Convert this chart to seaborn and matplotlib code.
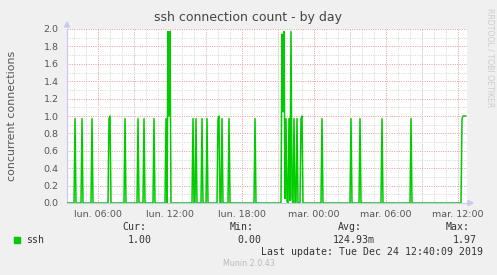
import numpy as np
import pandas as pd
import matplotlib
matplotlib.use("Agg")
import matplotlib.pyplot as plt
import matplotlib.dates as mdates
from matplotlib.ticker import MultipleLocator, FixedLocator, FixedFormatter
from matplotlib.patches import Rectangle
import seaborn as sns

# ---------------- data ----------------
series_name = "ssh"
title = "ssh connection count - by day"
y_label = "concurrent connections"
range_start = "2019-12-23 03:25"
last_sample = "2019-12-24 12:40"
view_end = "2019-12-24 12:45"

sample_times = [
    "2019-12-23 04:05", "2019-12-23 04:40", "2019-12-23 05:30", "2019-12-23 06:55",
    "2019-12-23 07:00", "2019-12-23 08:15", "2019-12-23 09:20", "2019-12-23 09:50",
    "2019-12-23 10:40", "2019-12-23 11:40", "2019-12-23 11:50", "2019-12-23 11:55",
    "2019-12-23 12:00", "2019-12-23 13:55", "2019-12-23 14:10", "2019-12-23 14:40",
    "2019-12-23 15:05", "2019-12-23 16:00", "2019-12-23 16:05", "2019-12-23 16:20",
    "2019-12-23 16:55", "2019-12-23 19:05", "2019-12-23 21:20", "2019-12-23 21:25",
    "2019-12-23 21:30", "2019-12-23 21:35", "2019-12-23 21:40", "2019-12-23 21:45",
    "2019-12-23 21:55", "2019-12-23 22:00", "2019-12-23 22:05", "2019-12-23 22:10",
    "2019-12-23 22:20", "2019-12-23 22:35", "2019-12-23 22:55", "2019-12-23 23:00",
    "2019-12-24 00:40", "2019-12-24 03:05", "2019-12-24 03:50", "2019-12-24 05:40",
    "2019-12-24 08:05", "2019-12-24 12:20", "2019-12-24 12:25", "2019-12-24 12:30",
    "2019-12-24 12:35", "2019-12-24 12:40",
]
sample_values = [
    0.97, 0.97, 0.97, 0.97,
    1.00, 0.97, 0.97, 0.97,
    0.97, 0.97, 1.97, 1.00,
    1.97, 0.97, 0.97, 0.97,
    0.97, 0.97, 1.00, 0.97,
    0.97, 0.97, 1.94, 1.05,
    1.97, 0.05, 0.97, 0.02,
    0.97, 0.03, 1.97, 0.05,
    0.97, 0.97, 0.97, 1.00,
    0.97, 0.97, 0.97, 0.97,
    0.97, 0.97, 1.00, 1.00,
    1.00, 1.00,
]

tick_times = ["2019-12-23 06:00", "2019-12-23 12:00", "2019-12-23 18:00",
              "2019-12-24 00:00", "2019-12-24 06:00", "2019-12-24 12:00"]
tick_labels = ["lun. 06:00", "lun. 12:00", "lun. 18:00",
               "mar. 00:00", "mar. 06:00", "mar. 12:00"]
y_ticks = [0.0, 0.2, 0.4, 0.6, 0.8, 1.0, 1.2, 1.4, 1.6, 1.8, 2.0]

stat_names = ["Cur:", "Min:", "Avg:", "Max:"]
stat_values = ["1.00", "0.00", "124.93m", "1.97"]
last_update = "Last update: Tue Dec 24 12:40:09 2019"
footer = "Munin 2.0.43"
watermark = "RRDTOOL / TOBI OETIKER"

# ---------------- build series (5-minute samples, 0 where nothing recorded) ----------------
idx = pd.date_range(range_start, last_sample, freq="5min")
s = pd.Series(0.0, index=idx)
s.loc[pd.to_datetime(sample_times)] = sample_values
df = pd.DataFrame({"time": s.index, "value": s.values})

# ---------------- figure ----------------
W, H = 497, 275
sns.set_style("white")
plt.rcParams["font.family"] = ["DejaVu Sans"]

fig = plt.figure(figsize=(W / 100, H / 100), dpi=100, facecolor="#f0f0f0")
L, R, T, B = 67, 467, 29, 203
ax = fig.add_axes([L / W, 1 - B / H, (R - L) / W, (B - T) / H])
ax.set_facecolor("white")

def px(x, y):
    return x / W, 1 - y / H

# grid
dots = (0, (1, 1.4))
ax.set_ylim(0, 2.0)
ax.set_xlim(pd.Timestamp(range_start), pd.Timestamp(view_end))
ax.yaxis.set_major_locator(FixedLocator(y_ticks))
ax.yaxis.set_major_formatter(FixedFormatter([f"{v:.1f}" for v in y_ticks]))
ax.yaxis.set_minor_locator(MultipleLocator(0.1))
tick_nums = mdates.date2num(pd.to_datetime(tick_times))
ax.xaxis.set_major_locator(FixedLocator(tick_nums))
ax.xaxis.set_major_formatter(FixedFormatter(tick_labels))
ax.xaxis.set_minor_locator(mdates.HourLocator())

ax.grid(which="minor", axis="both", color="#d4d4d4", lw=0.7, ls=dots, zorder=0)
ax.grid(which="major", axis="y", color="#e59a9a", lw=0.7, ls=dots, zorder=0.5)
for t in pd.date_range("2019-12-23 06:00", "2019-12-24 12:00", freq="3h"):
    ax.axvline(t, color="#e59a9a", lw=0.7, ls=dots, zorder=0.5)

sns.lineplot(data=df, x="time", y="value", ax=ax, color="#00cc00", lw=1.1,
             legend=False, zorder=3)
ax.set_xlabel("")
ax.set_ylabel("")

for sp in ["top", "right"]:
    ax.spines[sp].set_visible(False)
for sp in ["left", "bottom"]:
    ax.spines[sp].set_color("#c8c8f0")
    ax.spines[sp].set_linewidth(0.8)

ax.tick_params(axis="both", which="major", labelsize=6.8, labelcolor="#555555",
               length=2, width=0.6, color="#e59a9a", pad=3)
ax.tick_params(axis="y", which="major", color="#999999", pad=4)
ax.tick_params(axis="both", which="minor", length=1.5, width=0.6, color="#bbbbbb")

# axis arrows
fig.add_artist(plt.Polygon([px(64.5, 27), px(69.5, 27), px(67, 22)], closed=True,
                           color="#c8c8f0", transform=fig.transFigure))
fig.add_artist(plt.Polygon([px(468, 200.5), px(468, 205.5), px(473, 203)], closed=True,
                           color="#c8c8f0", transform=fig.transFigure))

# texts
fig.text(*px(248, 18), title, ha="center", va="center", fontsize=9, color="#444444")
fig.text(*px(12, 116), y_label, ha="center", va="center", rotation=90,
         fontsize=7.9, color="#555555")
fig.text(*px(490, 58), watermark, ha="center", va="center", rotation=270,
         fontsize=5.6, color="#cccccc")

mono = "DejaVu Sans Mono"
fig.add_artist(Rectangle(px(14, 243), 6 / W, 6 / H, color="#00cc00",
                         transform=fig.transFigure))
fig.text(*px(26.5, 240), series_name, ha="left", va="center", fontsize=7.1,
         family=mono, color="#333333")
name_x = [146, 254, 362, 470]
value_x = [152, 261, 375, 477]
for nx, n in zip(name_x, stat_names):
    fig.text(*px(nx, 227), n, ha="right", va="center", fontsize=7.1, family=mono,
             color="#333333")
for vx, v in zip(value_x, stat_values):
    fig.text(*px(vx, 240), v, ha="right", va="center", fontsize=7.1, family=mono,
             color="#333333")
fig.text(*px(483, 252), last_update, ha="right", va="center", fontsize=7.1,
         family=mono, color="#333333")
fig.text(*px(248.5, 263), footer, ha="center", va="center", fontsize=5.8,
         color="#bbbbbb")

fig.savefig("out.png", dpi=100, facecolor=fig.get_facecolor())
